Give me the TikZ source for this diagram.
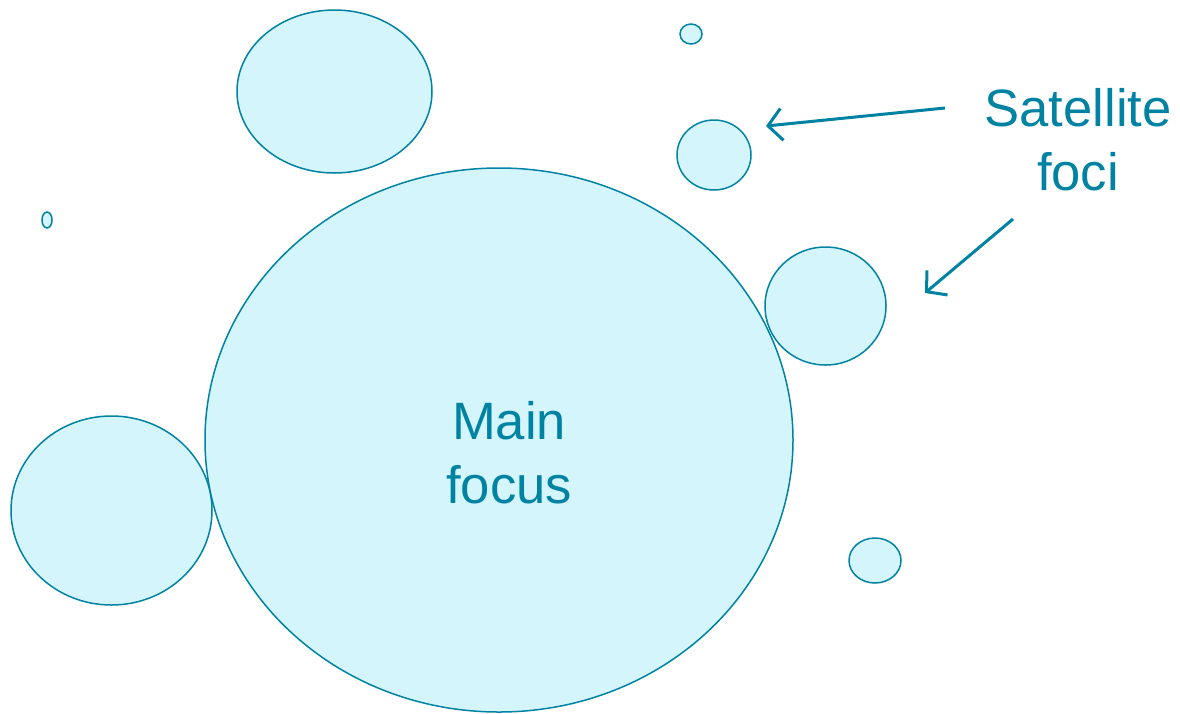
\documentclass[tikz,border=0pt]{standalone}
\usepackage{fontspec}
\setmainfont{Liberation Sans}
\usetikzlibrary{shapes.geometric,arrows.meta}
\definecolor{teal}{HTML}{0083A3}
\definecolor{bubble}{HTML}{D5F5FC}
\tikzset{
  foc/.style={ellipse, draw=teal, fill=bubble, line width=1.5pt, inner sep=0pt},
  lbl/.style={text=teal, font=\fontsize{52.6}{64}\selectfont, align=center},
  pointer/.style={draw=teal, line width=3pt, -{Straight Barb[length=14pt,width=32pt,line width=3pt]}}
}
\begin{document}
\begin{tikzpicture}[x=1pt,y=-1pt]
\useasboundingbox (0,0) rectangle (1180,713);
\node[foc, minimum width=195pt, minimum height=163pt] (tl) at (334.5,91.5) {};
\node[foc, minimum width=201pt, minimum height=189pt] (bl) at (111.5,510.5) {};
\node[foc, minimum width=10pt, minimum height=16pt] (tiny) at (47,220) {};
\node[foc, minimum width=22pt, minimum height=20pt] (top) at (691,34) {};
\node[foc, minimum width=74pt, minimum height=70pt] (mid) at (714,155) {};
\node[foc, minimum width=121pt, minimum height=118pt] (right) at (825.5,306) {};
\node[foc, minimum width=52pt, minimum height=45pt] (br) at (875,560.5) {};
\node[foc, minimum width=588pt, minimum height=544pt] (main) at (499,440) {};
\node[lbl] (mainlbl) at (509,453) {Main\\focus};
\node[lbl] (sat) at (1078,140) {Satellite\\foci};
\coordinate (s1) at (945,108);
\coordinate (e1) at (766,126);
\coordinate (s2) at (1013,219);
\coordinate (e2) at (925,293);
\draw[pointer] (s1) -- (e1);
\draw[pointer] (s2) -- (e2);
\end{tikzpicture}
\end{document}
